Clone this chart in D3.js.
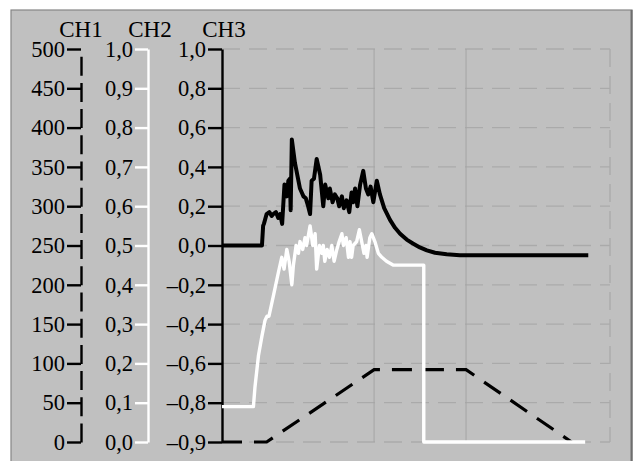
<!DOCTYPE html>
<html><head><meta charset="utf-8">
<script src="https://cdn.jsdelivr.net/npm/d3@7"></script>
<style>
html,body{margin:0;padding:0;background:#fff;}
svg{display:block;}
text{font-family:"Liberation Serif","Times New Roman",serif;}
</style></head>
<body>
<svg id="chart" width="634" height="461"></svg>
<script>
// ---- data ----
const channels = ["CH1", "CH2", "CH3"];
const ch1Ticks = [0, 50, 100, 150, 200, 250, 300, 350, 400, 450, 500];
const ch2Ticks = [0, 0.1, 0.2, 0.3, 0.4, 0.5, 0.6, 0.7, 0.8, 0.9, 1.0];
const ch3Ticks = [-1.0, -0.8, -0.6, -0.4, -0.2, 0.0, 0.2, 0.4, 0.6, 0.8, 1.0];
const ch3Labels = ["–0,9", "–0,8", "–0,6", "–0,4", "–0,2", "0,0", "0,2", "0,4", "0,6", "0,8", "1,0"];
const gridTimes = [39.2, 62.9];

// CH3 (solid black)
const ch3Time = [0,10.3,10.6,10.8,11.5,12.2,12.8,13.2,13.9,14.5,15.0,15.5,16.1,16.7,17.1,17.5,17.7,18.0,18.8,20.1,21.0,21.6,22.2,22.7,23.1,23.7,24.4,25.3,26.1,26.6,27.4,27.8,28.5,29.1,29.7,30.2,30.9,31.4,32.1,32.8,33.4,33.8,34.3,34.9,35.6,36.4,37.1,37.7,38.3,39.0,39.9,40.7,41.8,43.3,44.6,45.9,47.6,49.2,51.0,52.8,54.9,57.9,61.3,94.4];
const ch3Value = [0,0,0.10,0.11,0.16,0.17,0.15,0.16,0.17,0.14,0.16,0.11,0.31,0.25,0.33,0.34,0.18,0.54,0.42,0.29,0.25,0.24,0.20,0.16,0.33,0.34,0.44,0.36,0.20,0.31,0.24,0.29,0.22,0.26,0.24,0.20,0.25,0.19,0.23,0.17,0.27,0.22,0.29,0.20,0.31,0.38,0.29,0.26,0.30,0.22,0.33,0.26,0.19,0.13,0.09,0.06,0.03,0.01,-0.01,-0.025,-0.037,-0.045,-0.05,-0.05];

// CH2 (solid white)
const ch2Time = [0,8.1,8.5,9.4,10.3,11.1,11.6,12.1,13.2,14.5,15.4,16.0,16.7,17.3,18.0,18.4,19.1,19.7,20.1,20.8,21.4,21.8,22.7,23.4,24.0,24.4,25.1,25.7,26.1,26.5,27.1,27.7,28.3,28.9,29.6,30.2,30.9,31.3,32.0,32.6,33.0,33.4,33.8,34.7,35.4,36.0,36.6,37.1,37.4,38.1,38.6,39.4,40.3,41.2,42.4,44.2,45.9,52.0,52.0,93.6];
const ch2Value = [0.09,0.09,0.14,0.22,0.27,0.31,0.32,0.32,0.37,0.43,0.47,0.44,0.49,0.46,0.40,0.45,0.50,0.48,0.51,0.49,0.52,0.50,0.55,0.50,0.53,0.44,0.50,0.48,0.50,0.46,0.49,0.47,0.50,0.46,0.49,0.51,0.53,0.50,0.52,0.47,0.51,0.47,0.50,0.51,0.54,0.51,0.48,0.50,0.47,0.52,0.53,0.51,0.48,0.47,0.46,0.45,0.45,0.45,0.0,0.0];

// CH1 (dashed black)
const ch1Time = [0, 11.5, 39.2, 62.9, 90.1];
const ch1Value = [0, 0, 92, 92, 0];

// ---- layout ----
const svg = d3.select("#chart");
const plotTop = 49, plotBottom = 442, plotL = 222, plotR = 610;
const x = d3.scaleLinear().domain([0, 100]).range([plotL, plotR]);
const y1 = d3.scaleLinear().domain([0, 500]).range([plotBottom, plotTop]);
const y2 = d3.scaleLinear().domain([0, 1]).range([plotBottom, plotTop]);
const y3 = d3.scaleLinear().domain([-1, 1]).range([plotBottom, plotTop]);

// panel
svg.append("rect").attr("x", 11).attr("y", 10).attr("width", 621).attr("height", 470)
  .attr("fill", "#c0c0c0").attr("stroke", "#858585").attr("stroke-width", 1.2);
svg.append("line").attr("x1", 631.5).attr("x2", 631.5).attr("y1", 10).attr("y2", 461)
  .attr("stroke", "#6e6e6e").attr("stroke-width", 2);

// grid
const grid = svg.append("g");
grid.selectAll("line.h").data(ch2Ticks).join("line")
  .attr("x1", plotL).attr("x2", plotR)
  .attr("y1", d => y2(d)).attr("y2", d => y2(d))
  .attr("stroke", "#aaaaaa").attr("stroke-width", 1.3).attr("stroke-dasharray", "18,9");
grid.selectAll("line.v").data(gridTimes).join("line")
  .attr("x1", d => x(d)).attr("x2", d => x(d)).attr("y1", plotTop).attr("y2", plotBottom)
  .attr("stroke", "#a4a4a4").attr("stroke-width", 1);
grid.append("line").attr("x1", x(100)).attr("x2", x(100)).attr("y1", plotTop).attr("y2", plotBottom)
  .attr("stroke", "#aaaaaa").attr("stroke-width", 1.3).attr("stroke-dasharray", "18,9");

// axes
function styleAxis(g, color, width, fs) {
  g.selectAll(".tick line").attr("stroke", color).attr("stroke-width", width);
  g.select(".domain").attr("stroke", color).attr("stroke-width", width);
  g.selectAll(".tick text").attr("fill", "#000").style("font-size", fs + "px")
    .style("font-family", '"Liberation Serif","Times New Roman",serif');
}
const fmt = d3.format(".1f");
const comma = v => fmt(v).replace(".", ",");

const a1 = svg.append("g").attr("transform", `translate(81,0)`)
  .call(d3.axisLeft(y1).tickValues(ch1Ticks).tickSize(14).tickSizeOuter(0).tickPadding(2));
styleAxis(a1, "#000", 2.4, 22.5);
a1.select(".domain").attr("stroke-dasharray", "19,7.2");

const a2 = svg.append("g").attr("transform", `translate(148,0)`)
  .call(d3.axisLeft(y2).tickValues(ch2Ticks).tickSize(13).tickSizeOuter(0).tickPadding(2).tickFormat(comma));
styleAxis(a2, "#fff", 2.4, 22.5);

const a3 = svg.append("g").attr("transform", `translate(${plotL},0)`)
  .call(d3.axisLeft(y3).tickValues(ch3Ticks).tickSize(14).tickSizeOuter(0).tickPadding(2)
    .tickFormat((d, i) => ch3Labels[i]));
styleAxis(a3, "#000", 2.4, 22.5);

// titles
const titleX = [81, 150, 224];
svg.selectAll("text.title").data(channels).join("text")
  .attr("class", "title").attr("x", (d, i) => titleX[i]).attr("y", 37)
  .attr("text-anchor", "middle").style("font-size", "23px").attr("fill", "#000").text(d => d);

// lines
const line = (ys) => d3.line().x(d => x(d[0])).y(d => ys(d[1]));
svg.append("path").datum(d3.zip(ch1Time, ch1Value)).attr("d", line(y1))
  .attr("fill", "none").attr("stroke", "#000").attr("stroke-width", 3.2).attr("stroke-dasharray", "20,12");
svg.append("path").datum(d3.zip(ch2Time, ch2Value)).attr("d", line(y2))
  .attr("fill", "none").attr("stroke", "#fff").attr("stroke-width", 3.4).attr("stroke-linejoin", "round");
svg.append("path").datum(d3.zip(ch3Time, ch3Value)).attr("d", line(y3))
  .attr("fill", "none").attr("stroke", "#000").attr("stroke-width", 4).attr("stroke-linejoin", "round");
</script>
</body></html>
